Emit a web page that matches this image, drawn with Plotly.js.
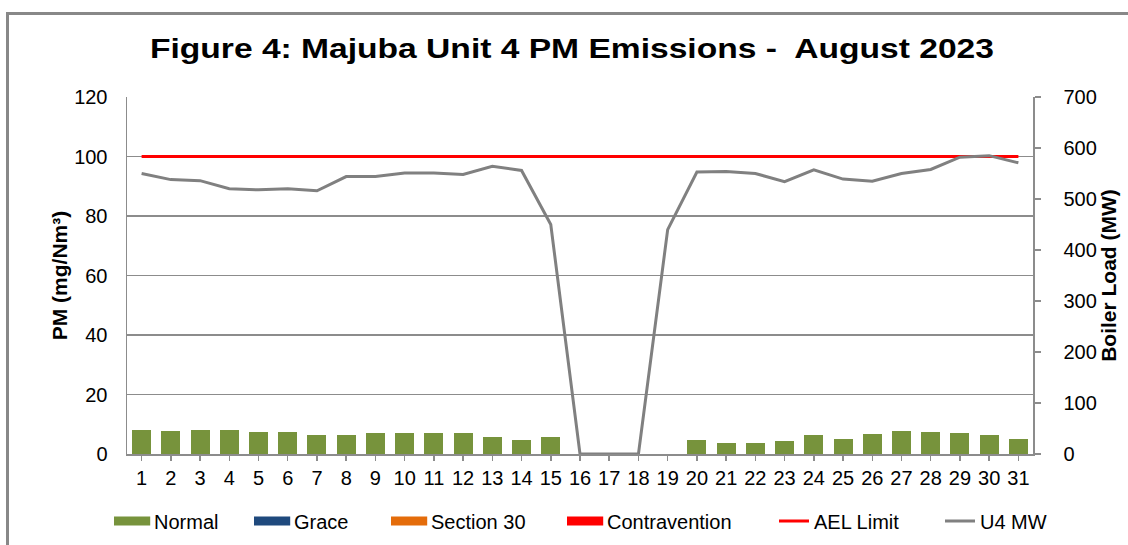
<!DOCTYPE html>
<html>
<head>
<meta charset="utf-8">
<script src="https://cdn.plot.ly/plotly-3.0.1.min.js"></script>
<style>
  html, body { margin: 0; padding: 0; background: #fff; }
  #wrap { position: relative; width: 1128px; height: 545px; overflow: hidden; }
  #chart { position: absolute; left: 0; top: 0; width: 1128px; height: 545px; }
  #frame { position: absolute; left: 6px; top: 12px; width: 1200px; height: 600px;
           border-left: 3px solid #888; border-top: 3px solid #888; pointer-events: none; }
  #chart .gtitle { transform-box: fill-box; transform-origin: center; transform: scaleX(1.2); }
  #chart .legendpoints path { transform: translate(17px, 0px) scaleX(3.2) scaleY(0.75); }
</style>
</head>
<body>
<div id="wrap">
  <div id="chart"></div>
  <div id="frame"></div>
</div>
<script>
// ---- data ----
const days = ["1","2","3","4","5","6","7","8","9","10","11","12","13","14","15","16",
              "17","18","19","20","21","22","23","24","25","26","27","28","29","30","31"];
const normal = [8.2,7.8,8.2,8.2,7.5,7.5,6.5,6.5,7.2,7.2,7.2,7.2,5.8,4.8,5.8,0,
                0,0,0,4.8,3.8,3.8,4.5,6.3,5.1,6.6,7.6,7.3,6.9,6.3,5.1];
const grace = new Array(31).fill(0);
const section30 = new Array(31).fill(0);
const contravention = new Array(31).fill(0);
const aelLimit = new Array(31).fill(100);
const u4MW = [550,538,536,520,518,520,516,544,544,551,551,548,564,556,450,0,
              0,0,440,553,554,550,534,557,539,535,550,558,582,585,571];

const FONT = "Liberation Sans, Arial, sans-serif";
const GRID = "#8c8c8c";

const traces = [
  {type:"bar", name:"Normal", x:days, y:normal, marker:{color:"#77933C"}, yaxis:"y", legend:"legend"},
  {type:"bar", name:"Grace", x:days, y:grace, marker:{color:"#1F497D"}, yaxis:"y", legend:"legend2"},
  {type:"bar", name:"Section 30", x:days, y:section30, marker:{color:"#E46C0A"}, yaxis:"y", legend:"legend3"},
  {type:"bar", name:"Contravention", x:days, y:contravention, marker:{color:"#FF0000"}, yaxis:"y", legend:"legend4"},
  {type:"scatter", mode:"lines", name:"AEL Limit", x:days, y:aelLimit,
   line:{color:"#FF0000", width:3}, yaxis:"y", legend:"legend5"},
  {type:"scatter", mode:"lines", name:"U4 MW", x:days, y:u4MW,
   line:{color:"#808080", width:3}, yaxis:"y2", legend:"legend6"}
];

function leg(px) {
  return {orientation:"h", xref:"container", yref:"container", x:px/1128, xanchor:"left",
          y:1 - 521/545, yanchor:"middle", font:{family:FONT, size:20, color:"#000"},
          bgcolor:"rgba(0,0,0,0)", borderwidth:0};
}

const layout = {
  width:1128, height:545,
  margin:{l:127, r:95, t:97, b:91, autoexpand:false},
  paper_bgcolor:"#fff", plot_bgcolor:"#fff",
  font:{family:FONT, color:"#000", size:20},
  title:{text:"<b>Figure 4: Majuba Unit 4 PM Emissions -  August 2023</b>",
         font:{family:FONT, size:28, color:"#000"},
         x:572/1128, xanchor:"center", y:1 - 48/545, yanchor:"middle"},
  barmode:"stack", bargap:0.35,
  showlegend:true,
  legend:leg(114), legend2:leg(254), legend3:leg(391),
  legend4:leg(567), legend5:leg(774), legend6:leg(940),
  xaxis:{type:"category", range:[-0.5,30.5], showline:true, linecolor:GRID, linewidth:1.5,
         ticks:"outside", ticklen:5, tickcolor:GRID, tickwidth:1.5, automargin:false,
         tickfont:{family:FONT, size:20, color:"#000"}, showgrid:false, fixedrange:true},
  yaxis:{range:[0,120], dtick:20, showline:true, linecolor:GRID, linewidth:1.5,
         showgrid:true, gridcolor:GRID, gridwidth:1.5, zeroline:false, automargin:false,
         ticks:"", ticklabelstandoff:14,
         tickfont:{family:FONT, size:20, color:"#000"},
         title:{text:"<b>PM (mg/Nm³)</b>", font:{family:FONT, size:21, color:"#000"}, standoff:1}},
  yaxis2:{range:[0,700], dtick:100, overlaying:"y", side:"right", showline:true,
          linecolor:GRID, linewidth:1.5, showgrid:false, zeroline:false, automargin:false,
          ticks:"outside", ticklen:6, tickcolor:GRID, tickwidth:1.5, ticklabelstandoff:19,
          tickfont:{family:FONT, size:20, color:"#000"},
          title:{text:"<b>Boiler Load (MW)</b>", font:{family:FONT, size:21, color:"#000"}, standoff:5}}
};

Plotly.newPlot("chart", traces, layout, {displayModeBar:false, staticPlot:true});
</script>
</body>
</html>
